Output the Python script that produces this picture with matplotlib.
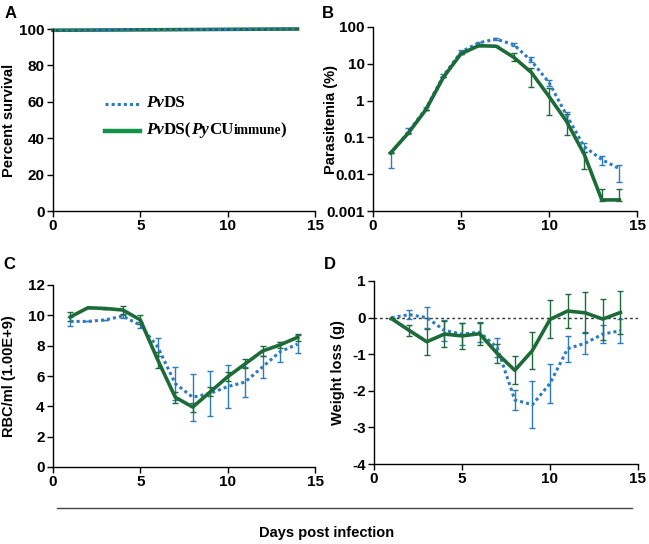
import numpy as np
import matplotlib
matplotlib.use("Agg")
import matplotlib.pyplot as plt
from matplotlib.offsetbox import TextArea, HPacker, AnchoredOffsetbox
from matplotlib.lines import Line2D

plt.rcParams['font.family'] = ['Liberation Sans', 'DejaVu Sans']
plt.rcParams['font.weight'] = 'bold'
plt.rcParams['axes.unicode_minus'] = False

BLUE = '#2b7bbd'
GREEN = '#1d6b38'
LEG_GREEN = '#15924a'

# ---- Data ----
surv_days = [0, 14]
surv_pvds = [99.3, 100]
surv_immune = [99.3, 100]

days = np.arange(1, 15)

# Parasitemia (%)
para_pvds = [0.036, 0.14, 0.6, 4.7, 21, 37, 47, 33, 12, 3.1, 0.4, 0.056, 0.025, 0.014]
para_pvds_lo = [0.015, 0.12, 0.55, 4.3, 19, 34, 44, 30, 11, 2.5, 0.3, 0.04, 0.018, 0.006]
para_pvds_hi = [0.040, 0.18, 0.65, 5.2, 23, 40, 50, 36, 15, 3.6, 0.5, 0.07, 0.032, 0.018]
para_imm = [0.038, 0.13, 0.56, 4.3, 18.7, 31, 30, 15, 5.8, 1.3, 0.27, 0.035, 0.002, 0.002]
para_imm_lo = [0.038, 0.13, 0.56, 4.3, 18.7, 31, 30, 12, 2.3, 0.41, 0.115, 0.014, 0.0019, 0.0019]
para_imm_hi = [0.038, 0.13, 0.56, 4.3, 18.7, 31, 30, 19.5, 7.6, 2.2, 0.43, 0.041, 0.0039, 0.0039]

# RBC/ml (1.00E+9)
rbc_pvds = [9.6, 9.6, 9.7, 9.95, 9.35, 7.9, 5.5, 4.6, 4.85, 5.3, 5.6, 6.6, 7.6, 8.1]
rbc_pvds_err = [0.3, 0, 0, 0.1, 0.2, 0.6, 1.1, 1.55, 1.5, 1.4, 1.0, 0.7, 0.65, 0.6]
rbc_imm = [9.9, 10.5, 10.45, 10.35, 9.7, 7.05, 4.6, 3.95, 4.95, 5.95, 6.8, 7.65, 8.05, 8.55]
rbc_imm_err = [0.3, 0, 0, 0.25, 0.3, 0.5, 0.35, 0.3, 0.3, 0.3, 0.3, 0.3, 0.2, 0.25]

# Weight loss (g)
wt_pvds = [0.0, 0.08, 0.0, -0.35, -0.45, -0.4, -0.82, -2.25, -2.38, -1.8, -0.85, -0.7, -0.45, -0.36]
wt_pvds_err = [0, 0.12, 0.28, 0.28, 0.3, 0.28, 0.27, 0.28, 0.64, 0.52, 0.35, 0.3, 0.25, 0.33]
wt_imm = [-0.03, -0.35, -0.66, -0.45, -0.5, -0.44, -0.98, -1.44, -0.9, -0.05, 0.18, 0.13, -0.04, 0.14]
wt_imm_err = [0, 0.15, 0.35, 0.35, 0.35, 0.3, 0.25, 0.38, 0.5, 0.52, 0.47, 0.56, 0.56, 0.6]

TFS = 11      # tick labels
FS = 10.5     # axis labels
W, H = 649, 544
fig = plt.figure(figsize=(W / 100, H / 100), dpi=100)


def ax_at(l, r, t, b):
    return fig.add_axes([l / W, 1 - b / H, (r - l) / W, (b - t) / H])


def style(ax):
    for s in ['top', 'right']:
        ax.spines[s].set_visible(False)
    for s in ['left', 'bottom']:
        ax.spines[s].set_linewidth(1.0)
    ax.tick_params(direction='out', length=4, width=1.0, labelsize=TFS, pad=2)
    ax.set_xlim(0, 15)
    ax.set_xticks([0, 5, 10, 15])
    for lab in ax.get_xticklabels() + ax.get_yticklabels():
        lab.set_fontweight('bold')


DOT = (0, (1, 1))
LW_G = 2.6
LW_B = 2.2

# ---- A ----
axA = ax_at(53, 315, 29, 211)
axA.plot(surv_days, surv_immune, color=GREEN, lw=LW_G, clip_on=False)
axA.plot(surv_days, surv_pvds, color=BLUE, lw=LW_B, ls=DOT, clip_on=False)
axA.set_ylim(0, 100)
axA.set_yticks([0, 20, 40, 60, 80, 100])
style(axA)
axA.set_ylabel('Percent survival', fontsize=FS, fontweight='bold')
axA.yaxis.set_label_coords(-0.141, 0.5)

# legend
lx0, lx1 = 105 / W, 140 / W
axA.add_line(Line2D([lx0, lx1], [1 - 104 / H, 1 - 104 / H], transform=fig.transFigure,
                    color=BLUE, lw=LW_B, ls=DOT))
axA.add_line(Line2D([lx0, lx1], [1 - 131 / H, 1 - 131 / H], transform=fig.transFigure,
                    color=LEG_GREEN, lw=3.2))
serif = 'Liberation Serif'
LFS = 12.2


def leg_text(pieces, y):
    boxes = []
    for txt, style_, size in pieces:
        boxes.append(TextArea(txt, textprops=dict(family=serif, fontweight='bold',
                                                  fontstyle=style_, fontsize=size)))
    pack = HPacker(children=boxes, align='baseline', pad=0, sep=0)
    ab = AnchoredOffsetbox(loc='center left', child=pack, frameon=False,
                           bbox_to_anchor=(146 / W, 1 - y / H),
                           bbox_transform=fig.transFigure, pad=0, borderpad=0)
    fig.add_artist(ab)


leg_text([('Pv', 'italic', LFS), ('DS', 'normal', LFS)], 103)
leg_text([('Pv', 'italic', LFS), ('DS(', 'normal', LFS), ('Py', 'italic', LFS),
          ('CU', 'normal', LFS), ('immune', 'normal', LFS * 0.8), (')', 'normal', LFS)], 130)

# ---- B ----
axB = ax_at(373, 637, 27, 211)
pb = np.array(para_pvds)
axB.errorbar(days, pb, yerr=[pb - np.array(para_pvds_lo), np.array(para_pvds_hi) - pb],
             color=BLUE, lw=LW_B, ls=DOT, elinewidth=1.0, capsize=2.5, capthick=1.0)
pg = np.array(para_imm)
axB.errorbar(days, pg, yerr=[pg - np.array(para_imm_lo), np.array(para_imm_hi) - pg],
             color=GREEN, lw=LW_G, elinewidth=1.0, capsize=2.5, capthick=1.0)
axB.set_yscale('log')
axB.set_ylim(0.001, 100)
axB.set_yticks([0.001, 0.01, 0.1, 1, 10, 100])
axB.set_yticklabels(['0.001', '0.01', '0.1', '1', '10', '100'])
axB.yaxis.set_minor_locator(matplotlib.ticker.NullLocator())
style(axB)
axB.set_ylabel('Parasitemia (%)', fontsize=FS, fontweight='bold')
axB.yaxis.set_label_coords(-0.133, 0.5)

# ---- C ----
axC = ax_at(53, 315, 285, 467)
axC.errorbar(days, rbc_pvds, yerr=rbc_pvds_err, color=BLUE, lw=LW_B, ls=DOT,
             elinewidth=1.0, capsize=2.5, capthick=1.0)
axC.errorbar(days, rbc_imm, yerr=rbc_imm_err, color=GREEN, lw=LW_G,
             elinewidth=1.0, capsize=2.5, capthick=1.0)
axC.set_ylim(0, 12)
axC.set_yticks([0, 2, 4, 6, 8, 10, 12])
style(axC)
axC.set_ylabel('RBC/ml (1.00E+9)', fontsize=FS, fontweight='bold')
axC.yaxis.set_label_coords(-0.141, 0.5)

# ---- D ----
axD = ax_at(374, 638, 281, 464)
axD.axhline(0, color='#333333', lw=1.0, ls=(0, (2, 2)), zorder=0)
axD.errorbar(days, wt_pvds, yerr=wt_pvds_err, color=BLUE, lw=LW_B, ls=DOT,
             elinewidth=1.0, capsize=2.5, capthick=1.0)
axD.errorbar(days, wt_imm, yerr=wt_imm_err, color=GREEN, lw=LW_G,
             elinewidth=1.0, capsize=2.5, capthick=1.0)
axD.set_ylim(-4, 1)
axD.set_yticks([-4, -3, -2, -1, 0, 1])
style(axD)
axD.set_ylabel('Weight loss (g)', fontsize=FS, fontweight='bold')
axD.yaxis.set_label_coords(-0.11, 0.5)

# panel letters
for lab, x, y in [('A', 5, 13), ('B', 322, 13), ('C', 3, 265), ('D', 324, 265)]:
    fig.text(x / W, 1 - y / H, lab, fontsize=12, fontweight='bold', va='center', ha='left')

# bottom line + common label
fig.add_artist(Line2D([57 / W, 632 / W], [1 - 508 / H, 1 - 508 / H],
                      transform=fig.transFigure, color='#444444', lw=1.0))
fig.text(327 / W, 1 - 533 / H, 'Days post infection', fontsize=FS, fontweight='bold',
         ha='center', va='center')

fig.savefig('out.png', dpi=100)
